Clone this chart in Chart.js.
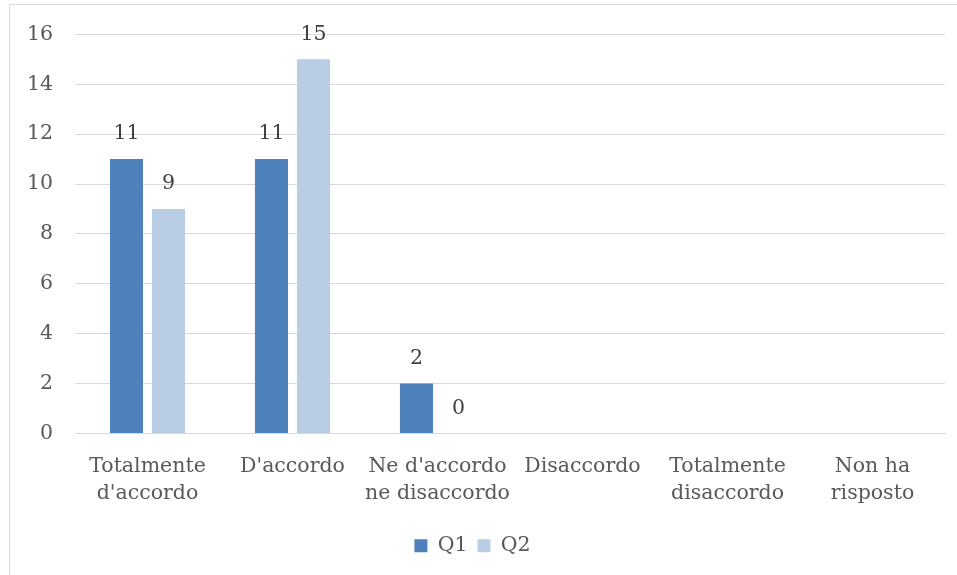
<!DOCTYPE html>
<html>
<head>
<meta charset="utf-8">
<script src="https://cdn.jsdelivr.net/npm/chart.js@4/dist/chart.umd.min.js"></script>
<style>
  html, body { margin: 0; padding: 0; background: #fff; overflow: hidden; }
  #wrap { position: relative; width: 957px; height: 575px; }
  #frame { position: absolute; left: 9px; top: 4px; width: 960px; height: 600px;
           border: 1px solid #d9d9d9; box-sizing: border-box; }
  #chart { position: absolute; left: 0; top: 0; }
</style>
</head>
<body>
<div id="wrap">
  <div id="frame"></div>
  <canvas id="chart" width="957" height="575"></canvas>
</div>
<script>
const categories = [
  ['Totalmente', "d'accordo"],
  "D'accordo",
  ["Ne d'accordo", 'ne disaccordo'],
  'Disaccordo',
  ['Totalmente', 'disaccordo'],
  ['Non ha', 'risposto']
];
const q1 = [11, 11, 2, null, null, null];
const q2 = [9, 15, 0, null, null, null];
const yTicks = { min: 0, max: 16, step: 2 };

const FONT = '"DejaVu Serif", serif';
const TEXT = '#595959';
const SIZE = 20.5;

// value labels above each bar
const barLabels = {
  id: 'barLabels',
  afterDatasetsDraw(chart) {
    const ctx = chart.ctx;
    ctx.save();
    ctx.font = SIZE + 'px ' + FONT;
    ctx.fillStyle = '#404040';
    ctx.textAlign = 'center';
    ctx.textBaseline = 'middle';
    chart.data.datasets.forEach((ds, i) => {
      chart.getDatasetMeta(i).data.forEach((bar, j) => {
        const v = ds.data[j];
        if (v === null) return;
        ctx.fillText(String(v), bar.x, bar.y - 25);
      });
    });
    ctx.restore();
  }
};

new Chart(document.getElementById('chart'), {
  type: 'bar',
  data: {
    labels: categories,
    datasets: [
      { label: 'Q1', data: q1, backgroundColor: '#4f81bd' },
      { label: 'Q2', data: q2, backgroundColor: '#b9cde5' }
    ]
  },
  options: {
    responsive: false,
    animation: false,
    categoryPercentage: 0.58,
    barPercentage: 0.786,
    layout: { padding: { top: 24, right: 12, left: 0, bottom: 9 } },
    plugins: {
      legend: {
        position: 'bottom',
        labels: {
          boxWidth: 13, boxHeight: 13, padding: 10,
          color: TEXT, font: { family: FONT, size: SIZE }
        }
      },
      tooltip: { enabled: false }
    },
    scales: {
      x: {
        grid: { display: false, drawTicks: false },
        border: { color: '#d9d9d9', width: 1 },
        ticks: { color: TEXT, font: { family: FONT, size: SIZE, lineHeight: 1.3 }, padding: 20, maxRotation: 0, autoSkip: false },
        afterFit(scale) { scale.height = 92; }
      },
      y: {
        min: yTicks.min, max: yTicks.max,
        grid: { color: '#d9d9d9', drawTicks: false },
        border: { display: false },
        ticks: { stepSize: yTicks.step, color: TEXT, font: { family: FONT, size: SIZE }, padding: 22 },
        afterFit(scale) { scale.width = 75; }
      }
    }
  },
  plugins: [barLabels]
});
</script>
</body>
</html>
